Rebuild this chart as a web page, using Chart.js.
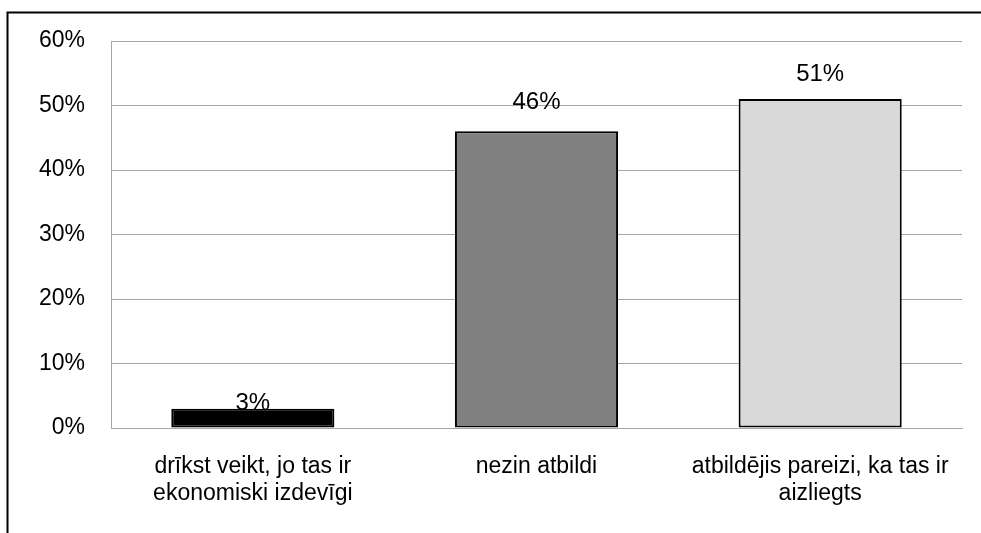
<!DOCTYPE html>
<html>
<head>
<meta charset="utf-8">
<script src="https://cdn.jsdelivr.net/npm/chart.js@4/dist/chart.umd.min.js"></script>
<style>
  html, body { margin: 0; padding: 0; background: #ffffff; }
  #wrap { width: 981px; height: 533px; }
</style>
</head>
<body>
<div id="wrap"><canvas id="chart" width="981" height="533"></canvas></div>
<script>
// Answer categories (wrapped onto two lines where needed)
const categories = [
  ['drīkst veikt, jo tas ir', 'ekonomiski izdevīgi'],
  'nezin atbildi',
  ['atbildējis pareizi, ka tas ir', 'aizliegts']
];
// Share of respondents, percent
const shares = [3, 46, 51];
// Value axis ticks, percent
const yTicks = [0, 10, 20, 30, 40, 50, 60];

const FONT = '"Liberation Sans", Arial, sans-serif';
const barFills = ['#000000', '#808080', '#d9d9d9'];

// Outer frame (left and top edges)
const framePlugin = {
  id: 'frame',
  beforeDraw(chart) {
    const ctx = chart.ctx;
    ctx.save();
    ctx.fillStyle = '#ffffff';
    ctx.fillRect(0, 0, chart.width, chart.height);
    ctx.strokeStyle = '#000000';
    ctx.lineWidth = 2;
    ctx.beginPath();
    ctx.moveTo(7.5, chart.height);
    ctx.lineTo(7.5, 12.5);
    ctx.lineTo(chart.width, 12.5);
    ctx.stroke();
    ctx.restore();
  }
};

// Value labels above the bars, drawn behind the bars themselves
const valueLabels = {
  id: 'valueLabels',
  beforeDatasetsDraw(chart, args, opts) {
    const ctx = chart.ctx;
    const meta = chart.getDatasetMeta(0);
    ctx.save();
    ctx.font = opts.font;
    ctx.fillStyle = '#000000';
    ctx.textAlign = 'center';
    ctx.textBaseline = 'middle';
    meta.data.forEach((bar, i) => {
      const v = chart.data.datasets[0].data[i];
      ctx.fillText(v + '%', bar.x, bar.y - opts.rise[i]);
    });
    ctx.restore();
  }
};

new Chart(document.getElementById('chart'), {
  type: 'bar',
  data: {
    labels: categories,
    datasets: [{
      data: shares,
      backgroundColor: barFills,
      borderColor: '#000000',
      borderWidth: 2,
      borderSkipped: false,
      barPercentage: 0.575,
      categoryPercentage: 1.0
    }]
  },
  options: {
    responsive: false,
    animation: false,
    devicePixelRatio: 1,
    layout: { padding: { left: 0, right: 19, top: 41, bottom: 0 } },
    plugins: {
      legend: { display: false },
      tooltip: { enabled: false },
      valueLabels: { font: '24px ' + FONT, rise: [5, 29, 25] }
    },
    scales: {
      x: {
        grid: { display: false, drawTicks: false },
        border: { display: true, color: '#a6a6a6', width: 1 },
        ticks: {
          color: '#000000',
          padding: 25,
          maxRotation: 0,
          autoSkip: false,
          font: { family: FONT, size: 23, lineHeight: '27px' }
        },
        afterFit(axis) { axis.height = 105; }
      },
      y: {
        min: 0,
        max: 60,
        afterBuildTicks(axis) { axis.ticks = yTicks.map(v => ({ value: v })); },
        grid: { color: '#a6a6a6', lineWidth: 1, drawTicks: false },
        border: { display: true, color: '#a6a6a6', width: 1 },
        ticks: {
          color: '#000000',
          padding: 26,
          font: { family: FONT, size: 23 },
          callback: v => v + '%'
        },
        afterFit(axis) { axis.width = 111; }
      }
    }
  },
  plugins: [framePlugin, valueLabels]
});
</script>
</body>
</html>
